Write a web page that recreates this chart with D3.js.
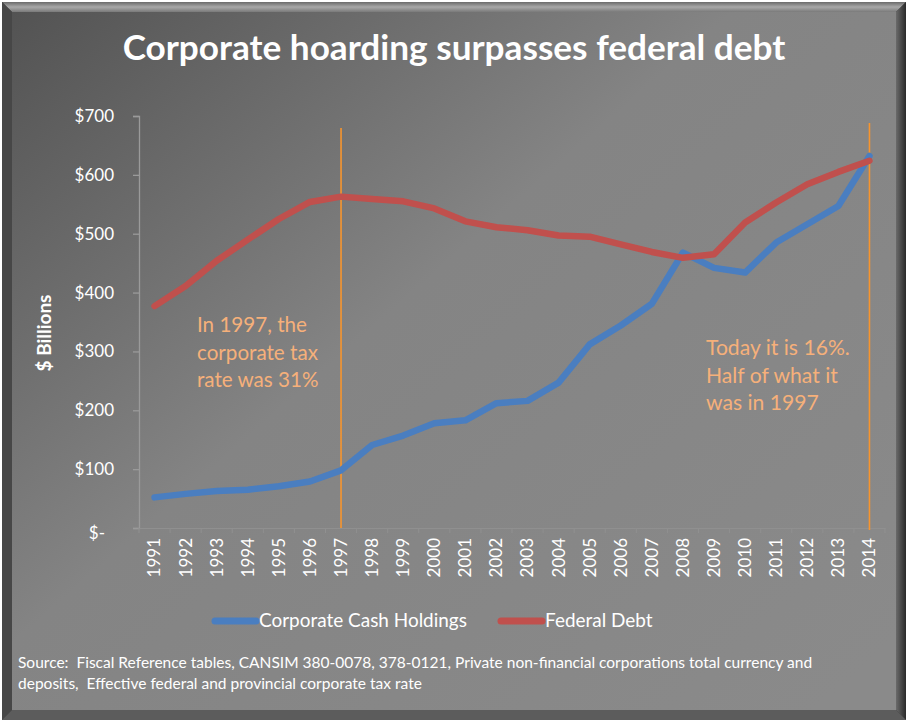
<!DOCTYPE html>
<html><head><meta charset="utf-8">
<script src="https://cdn.jsdelivr.net/npm/d3@7"></script>
<style>body{margin:0;background:#fff}svg{display:block}text{font-family:Lato,"Open Sans",sans-serif;white-space:pre}</style>
</head><body>
<svg id="c" width="909" height="726"></svg>
<script>
const years = ["1991","1992","1993","1994","1995","1996","1997","1998","1999","2000","2001","2002","2003","2004","2005","2006","2007","2008","2009","2010","2011","2012","2013","2014"];
const cashHoldings = [52,58,63,65,71,79,98,141,157,178,183,212,216,247,312,344,381,468,442,434,485,516,547,632];
const federalDebt = [377,411,454,490,525,554,563,559,555,543,521,511,506,497,495,482,469,459,465,519,553,584,605,624];
const yTicks = [0,100,200,300,400,500,600,700];
const seriesNames = ["Corporate Cash Holdings","Federal Debt"];
const markerYears = ["1997","2014"];
const note1 = ["In 1997, the","corporate tax","rate was 31%"];
const note2 = ["Today it is 16%.","Half of what it","was in 1997"];
const titleText = "Corporate hoarding surpasses federal debt";
const sourceLines = ["Source:  Fiscal Reference tables, CANSIM 380-0078, 378-0121, Private non-financial corporations total currency and","deposits,  Effective federal and provincial corporate tax rate"];

const svg = d3.select("#c");
const defs = svg.append("defs");
const g1 = defs.append("linearGradient").attr("id","bg").attr("x1","0").attr("y1","0").attr("x2","1").attr("y2","0.9");
g1.append("stop").attr("offset","0").attr("stop-color","#535353");
g1.append("stop").attr("offset","0.45").attr("stop-color","#848484");
g1.append("stop").attr("offset","1").attr("stop-color","#8a8a8a");
const g2 = defs.append("linearGradient").attr("id","topb").attr("x1","0").attr("y1","0").attr("x2","0").attr("y2","1");
g2.append("stop").attr("offset","0").attr("stop-color","#6a6a6a");
g2.append("stop").attr("offset","0.5").attr("stop-color","#a8a8a8");
g2.append("stop").attr("offset","1").attr("stop-color","#7a7a7a");
const g3 = defs.append("linearGradient").attr("id","rightb").attr("x1","0").attr("y1","0").attr("x2","1").attr("y2","0");
g3.append("stop").attr("offset","0").attr("stop-color","#6a6a6a");
g3.append("stop").attr("offset","1").attr("stop-color","#2a2a2a");

// frame
const L=2,T=2,R=906,B=720,bw=10;
svg.append("rect").attr("x",L).attr("y",T).attr("width",R-L).attr("height",B-T).attr("fill","#3a3a3a");
svg.append("polygon").attr("points",`${L},${T} ${R},${T} ${R-bw},${T+bw} ${L+bw},${T+bw}`).attr("fill","url(#topb)");
svg.append("polygon").attr("points",`${L},${T} ${L+bw},${T+bw} ${L+bw},${B-bw} ${L},${B}`).attr("fill","#474747");
svg.append("polygon").attr("points",`${R},${T} ${R},${B} ${R-bw},${B-bw} ${R-bw},${T+bw}`).attr("fill","url(#rightb)");
svg.append("polygon").attr("points",`${L},${B} ${L+bw},${B-bw} ${R-bw},${B-bw} ${R},${B}`).attr("fill","#5c5c5c");
svg.append("rect").attr("x",L+bw).attr("y",T+bw).attr("width",R-L-2*bw).attr("height",B-T-2*bw).attr("fill","url(#bg)");

function fit(sel, w){ const n=sel.node(); const fs=parseFloat(sel.attr("font-size")); const cw=n.getComputedTextLength(); const s=fs*w/cw; sel.attr("font-size",s); return s;}

// title
const title = svg.append("text").attr("x",454).attr("y",60).attr("text-anchor","middle").attr("fill","#fff").attr("font-weight","bold").attr("font-size",32).text(titleText);
fit(title,663);

const x = d3.scaleBand().domain(years).range([139,885]);
const y = d3.scaleLinear().domain([0,700]).range([528,116]);
const cx = d => x(d)+x.bandwidth()/2;

// y axis
const ya = svg.append("g").attr("transform","translate(139,0)").call(d3.axisLeft(y).tickValues(yTicks).tickSize(6).tickPadding(19).tickFormat(d=> d===0?"$-":"$"+d));
ya.select(".domain").attr("stroke","#9a9a9a").attr("stroke-width",1.3);
ya.selectAll(".tick line").attr("stroke","#9a9a9a").attr("stroke-width",1.3);
ya.selectAll("text").attr("fill","#fff").attr("font-size",17).attr("font-family",'Lato,"Open Sans",sans-serif');
ya.selectAll(".tick").filter(d=>d===0).select("text").attr("dx",-9).attr("dy","0.6em");

// x axis
const xa = svg.append("g").attr("transform","translate(0,528)").call(d3.axisBottom(x).tickSize(0).tickPadding(0));
xa.select(".domain").attr("stroke","#909090").attr("stroke-width",1);
xa.selectAll(".tick text").attr("fill","#fff").attr("font-size",17).attr("font-family",'Lato,"Open Sans",sans-serif')
  .attr("transform","rotate(-90)").attr("text-anchor","end").attr("x",-10).attr("y",0).attr("dy","0.35em");
svg.append("g").selectAll("line").data(years.concat(["end"])).join("line")
  .attr("x1",(d,i)=>139+i*x.step()).attr("x2",(d,i)=>139+i*x.step()).attr("y1",528).attr("y2",533)
  .attr("stroke","#909090").attr("stroke-width",1);

// y axis title
const yt = svg.append("text").attr("transform","translate(51,333) rotate(-90)").attr("text-anchor","middle").attr("fill","#fff").attr("font-weight","bold").attr("font-size",17).text("$ Billions");
fit(yt,77);

// marker lines
svg.selectAll(".mk").data(markerYears).join("line").attr("class","mk")
  .attr("x1",d=>cx(d)).attr("x2",d=>cx(d)).attr("y1",(d,i)=>i?123:128).attr("y2",(d,i)=>i?530:528)
  .attr("stroke","#f7952e").attr("stroke-width",1.6);

// lines
const line = d3.line().x((d,i)=>cx(years[i])).y(d=>y(d));
const colors = ["#4a7ec0","#c0504d"];
[cashHoldings, federalDebt].forEach((s,k)=>{
  svg.append("path").attr("d",line(s)).attr("fill","none").attr("stroke",colors[k]).attr("stroke-width",6.5).attr("stroke-linejoin","round").attr("stroke-linecap","round");
});

// annotations
function note(lines, x0, y0, w){
  const t = svg.append("g");
  let fs=null;
  lines.forEach((l,i)=>{
    const e=t.append("text").attr("x",x0).attr("y",y0+i*27.5).attr("fill","#f6b07a").attr("font-size",19).text(l);
    if(i===0) fs=fit(e,w); else e.attr("font-size",fs);
  });
}
note(note1,197,332,110);
note(note2,706,355,144);

// legend
const leg = [[212,259],[498,545]];
let lfs=null;
seriesNames.forEach((n,k)=>{
  svg.append("line").attr("x1",leg[k][0]+3).attr("x2",leg[k][1]-3).attr("y1",621).attr("y2",621).attr("stroke",colors[k]).attr("stroke-width",7).attr("stroke-linecap","round");
  const t=svg.append("text").attr("x",leg[k][1]).attr("y",627).attr("fill","#fff").attr("font-size",17).text(n);
  if(k===0) lfs=fit(t,208); else t.attr("font-size",lfs);
});

// source
let sfs=null;
sourceLines.forEach((l,i)=>{
  const t=svg.append("text").attr("x",18).attr("y",668+i*21).attr("fill","#fff").attr("font-size",14).text(l);
  if(i===0) sfs=fit(t,795); else t.attr("font-size",sfs);
});
</script>
</body></html>
